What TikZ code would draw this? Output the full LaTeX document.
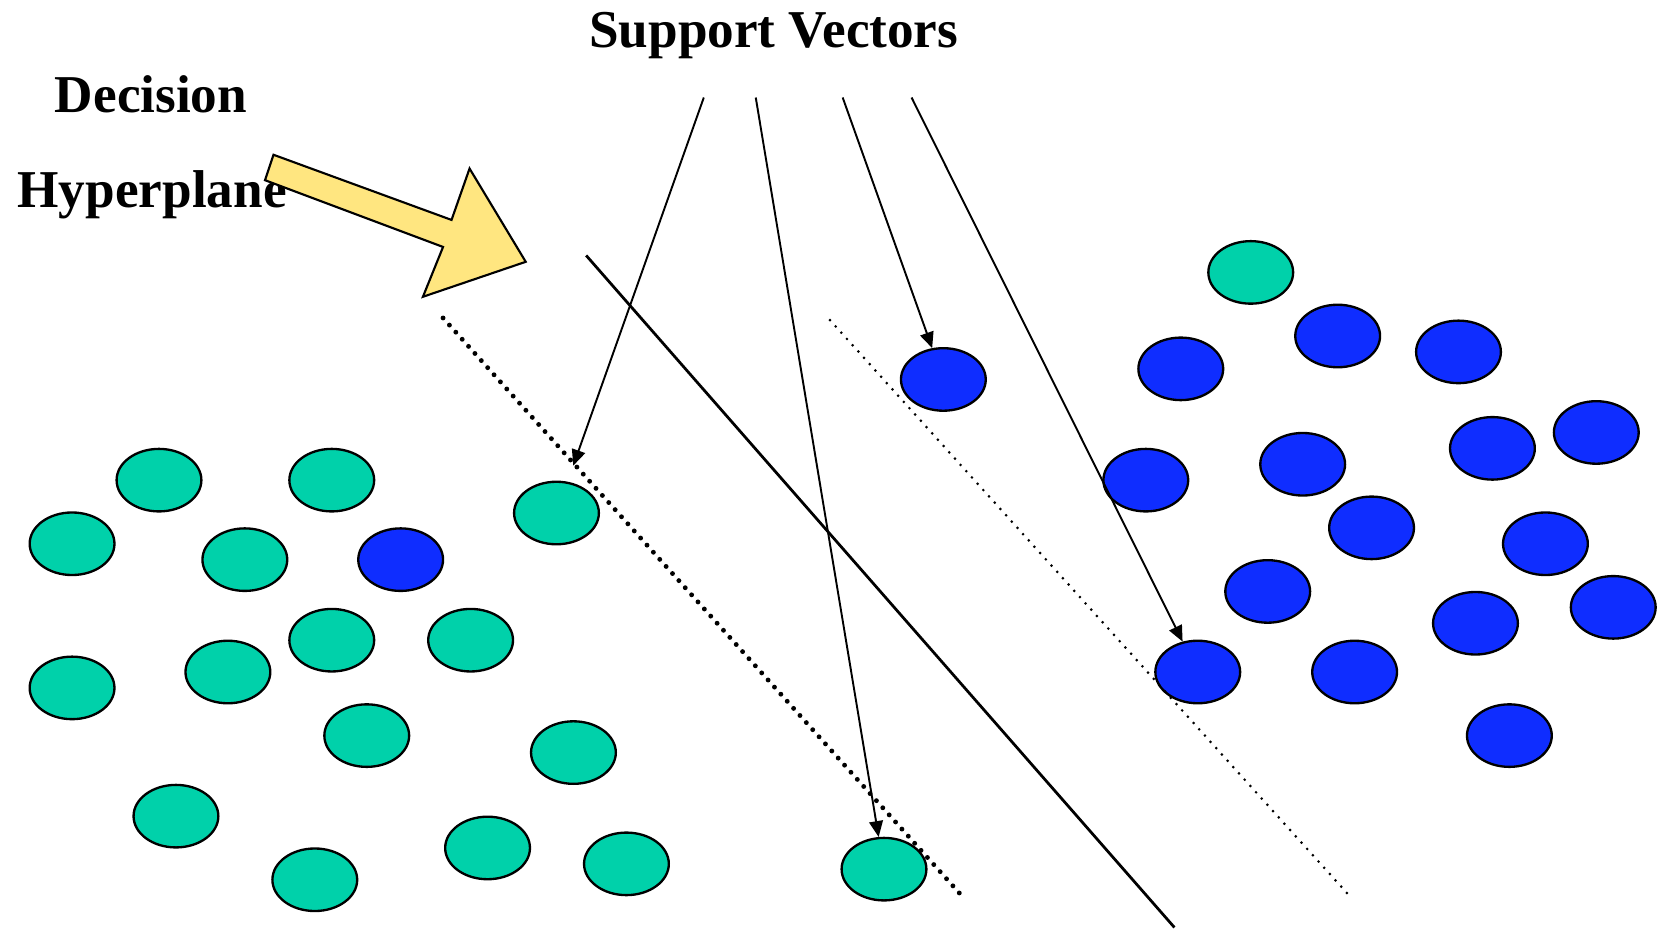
\documentclass[tikz,border=0pt]{standalone}
\usepackage{fontspec}
\setmainfont{Liberation Serif}
\usetikzlibrary{arrows.meta,shapes.geometric}

\definecolor{svmgreen}{RGB}{0,209,170}
\definecolor{svmblue}{RGB}{15,45,255}
\definecolor{hintyellow}{RGB}{255,230,128}

\tikzset{
    pt/.style={ellipse,draw,line width=1.1pt,minimum width=40pt,minimum height=29.5pt,inner sep=0pt},
    ptg/.style={pt,fill=svmgreen},
    ptb/.style={pt,fill=svmblue},
    lbl/.style={font=\fontsize{25.1}{30}\selectfont\bfseries,inner sep=0pt,anchor=base},
    svarrow/.style={-{Triangle[length=7.5pt,width=6.5pt]},line width=0.9pt}
}

\begin{document}
\begin{tikzpicture}[x=0.5pt,y=-0.5pt]
            \useasboundingbox (0,0) rectangle (1568,876);
            \node[lbl] (sv) at (730,45) {Support Vectors};
            \node[lbl] (dec) at (142.5,106) {Decision};
            \node[lbl] (hyp) at (143.5,196) {Hyperplane};
            \draw[fill=hintyellow,line width=1pt,line join=miter]
                (258,146) -- (426,207.5) -- (443,159) -- (496,247)
                -- (399,280) -- (418,233) -- (250,170) -- cycle;
            % class one
            \foreach \x/\y [count=\i] in {150/453,313/453,68/513,231/528,525/484,313/604,
                    444/604,215/634,68/649,346/694,541/710,166/770,460/800,297/830,
                    591/815,834/820,1180/257}
                \node[ptg] (g\i) at (\x,\y) {};
            % class two
            \foreach \x/\y [count=\i] in {378/528,890/358,1262/317,1376/332,1114/348,
                    1081/453,1229/438,1408/423,1506/408,1294/498,1458/513,1196/558,
                    1392/588,1522/573,1130/634,1278/634,1424/694}
                \node[ptb] (b\i) at (\x,\y) {};
            % hyperplane and margins
            \draw[line width=1.3pt] (553,241) -- (1108,875);
            \draw[line width=2.3pt,line cap=round,dash pattern=on 0pt off 4.5pt] (418,300) -- (910,848);
            \draw[line width=1.4pt,line cap=round,dash pattern=on 0pt off 4pt] (783,302) -- (1273,845);
            % support vectors
            \coordinate (s1) at (664,92);
            \coordinate (s2) at (713,92);
            \coordinate (s3) at (795,92);
            \coordinate (s4) at (860,92);
            \draw[svarrow,shorten >=8pt] (s1) -- (g5);
            \draw[svarrow] (s2) -- (g16);
            \draw[svarrow] (s3) -- (b2);
            \draw[svarrow] (s4) -- (b15);
\end{tikzpicture}
\end{document}
